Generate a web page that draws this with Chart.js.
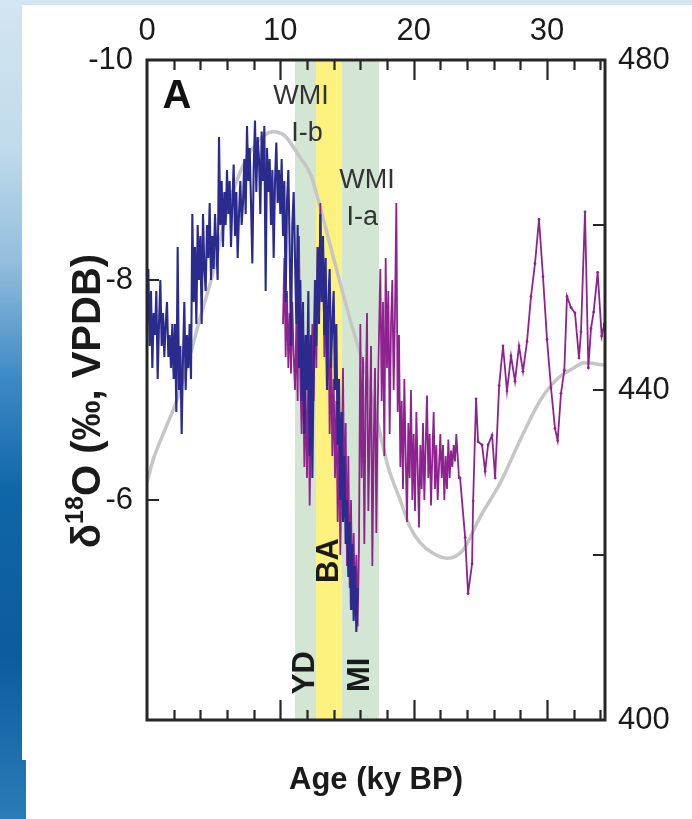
<!DOCTYPE html>
<html><head><meta charset="utf-8">
<script src="https://cdn.jsdelivr.net/npm/chart.js@4.4.1/dist/chart.umd.min.js"></script>
<style>
html,body{margin:0;padding:0;}
body{width:692px;height:819px;position:relative;overflow:hidden;
background:linear-gradient(to bottom,#d3e5f0 0%,#c0dbeb 18%,#93bedd 32%,#3e8ac6 46%,#0f66a8 60%,#0c5c9c 80%,#2a7bb8 100%);}
#p1{position:absolute;left:22px;top:5px;width:670px;height:755px;background:#fff;}
#p2{position:absolute;left:26px;top:760px;width:666px;height:59px;background:#fff;}
canvas{position:absolute;left:0;top:0;}
</style></head><body>
<div id="p1"></div><div id="p2"></div>
<canvas id="c" width="692" height="819"></canvas>
<script>
// ---------- data ----------
const ageTickLabels = [0, 10, 20, 30];
const d18OTickLabels = [-10, -8, -6];
const insolTickLabels = [400, 440, 480];

const periodNames = ['YD', 'BA', 'MI'];
const periodStart = [11.1, 12.68, 14.63];
const periodEnd = [12.68, 14.63, 17.4];

// insolation curve (right axis)
const insolAge = [0,0.45,1.35,2.25,3.23,3.98,4.95,6.0,6.98,8.1,9.45,10.35,10.95,11.48,12.3,12.98,13.73,14.48,15.45,16.5,17.33,18.08,18.98,19.73,20.48,21.45,22.5,23.7,24.98,26.48,27.98,29.48,30.75,32.03,32.78,34.35];
const insolValue = [428.8,431.5,435.2,438.8,444.2,448.7,454.2,461.8,466.4,469.7,471.3,470.8,469.5,468.2,466.0,462.2,457.6,453.0,447.3,441.6,435.8,430.7,426.7,423.4,421.5,420.2,419.6,420.6,424.6,428.7,433.9,438.7,441.3,442.7,443.3,443.0];

// blue d18O record, ages from 0 ky every 0.1 ky
const blueStartAge = 0, blueAgeStep = 0.1;
const blueD18O = [
 -7.6,-8.1,-7.4,-7.9,-7.2,-7.7,-7.5,-7.9,-7.1,-7.6,
 -8.0,-7.4,-7.7,-7.3,-7.6,-7.8,-7.3,-7.5,-7.2,-7.6,
 -7.1,-7.6,-6.8,-8.3,-7.0,-7.4,-6.6,-7.3,-7.8,-7.0,
 -7.5,-7.2,-7.6,-7.1,-8.6,-7.8,-8.3,-7.6,-8.5,-8.0,
 -8.4,-7.6,-8.6,-8.1,-7.9,-8.5,-8.2,-8.7,-8.0,-8.4,
 -8.1,-8.6,-8.3,-8.0,-9.3,-8.5,-8.9,-8.3,-8.8,-8.5,
 -9.0,-8.6,-8.9,-8.3,-8.7,-9.05,-8.4,-8.8,-8.2,-8.6,
 -8.9,-8.5,-8.7,-9.1,-8.6,-9.4,-8.9,-9.2,-8.7,-8.15,
 -9.0,-9.45,-8.8,-9.3,-9.1,-8.6,-9.35,-8.9,-9.4,-7.9,
 -9.2,-8.8,-9.1,-8.5,-9.0,-8.2,-8.9,-9.25,-8.7,-9.0,
 -8.6,-9.1,-8.4,-8.9,-7.8,-8.7,-9.0,-8.3,-7.4,-8.5,
 -8.8,-8.2,-7.6,-8.5,-7.2,-8.0,-6.9,-7.8,-6.6,-7.5,
 -7.0,-7.9,-6.4,-7.5,-6.2,-7.2,-8.0,-7.4,-8.3,-7.6,
 -8.6,-7.8,-8.4,-7.5,-8.2,-7.0,-7.8,-8.1,-7.2,-7.6,
 -7.9,-7.0,-7.6,-6.5,-7.1,-6.0,-6.8,-5.8,-6.4,-5.6,
 -6.0,-5.3,-5.8,-5.0,-5.6,-4.9,-5.4,-4.8,-5.2
];

// purple d18O record: dense part from 10.2 ky every 0.1 ky
const purpleStartAge = 10.2, purpleAgeStep = 0.1;
const purpleDenseD18O = [
 -7.6,-8.2,-7.3,-7.9,-7.2,-7.7,-7.15,-7.8,-7.3,
 -7.0,-7.6,-6.9,-8.4,-7.1,-6.6,-7.4,-6.3,-7.0,
 -6.2,-7.2,-5.95,-6.8,-7.6,-6.9,
 -7.9,-7.2,-8.3,-7.6,-8.7,-7.8,-8.4,-7.3,-8.0,-7.0,-7.7,-6.6,-7.4,-6.4,
 -7.1,-6.2,-6.9,-5.8,-6.6,-5.5,-6.3,-7.2,-5.9,-6.7,-5.4,
 -6.4,-5.2,-6.0,-5.0,-5.7,-4.95,-5.5,-4.85,-5.6,
 -7.6,-6.2,-7.3,-5.6,-6.9,-7.7,-5.9,-6.6,-7.4,-5.4,-6.5,-7.2,-5.7,-6.8,
 -7.5,-8.1,-6.9,-7.8,-6.4,-8.2,-7.2,-7.9,-6.6,-7.6,-8.0,-7.0,-7.7,-8.7,-6.8,-7.5,-6.3,
 -6.9,-6.1,-7.1,-6.4,-5.8,-6.7,-6.2,-7.0,-6.0,-6.6,-5.9,-6.8,-6.3,-5.75,-6.5,
 -6.1,-6.7,-6.0,-6.5,-6.95,-6.2,-6.6,-5.95,-6.4,-6.8,-6.1,-6.5,-6.0,-6.3,-6.6,
 -6.2,-6.5,-6.0,-6.4,-6.1,-6.55,-6.2,-6.45,-6.3,-6.5,-6.35,-6.6,-6.4,-6.2
];
// purple sparse part (older than 23.4 ky)
const purpleSparseAge = [23.48,23.86,24.08,24.38,24.46,24.68,24.83,25.13,25.36,25.58,25.88,26.11,26.41,26.7,27.0,27.3,27.6,27.9,28.2,28.5,28.8,29.1,29.4,29.7,30.0,30.3,30.6,30.8,31.05,31.3,31.5,31.8,32.1,32.4,32.55,32.85,33.1,33.3,33.5,33.8,34.1,34.3];
const purpleSparseD18O = [-6.20,-5.66,-5.15,-5.42,-5.99,-6.92,-6.53,-6.50,-6.26,-6.50,-6.59,-6.20,-7.04,-7.40,-6.99,-7.31,-7.08,-7.40,-7.17,-7.44,-7.85,-8.15,-8.55,-8.03,-7.46,-7.02,-6.65,-6.54,-6.97,-7.18,-7.85,-7.75,-7.70,-7.29,-7.53,-8.62,-7.20,-7.56,-7.71,-8.07,-7.49,-7.60];

// ---------- build ----------
const FONT = "'Liberation Sans', Arial, Helvetica, sans-serif";
const X_MIN = 0, X_MAX = 34.35;

const bluePts = blueD18O.map((v, i) => ({x: blueStartAge + i * blueAgeStep, y: v}));
const purplePts = purpleDenseD18O.map((v, i) => ({x: purpleStartAge + i * purpleAgeStep, y: v}))
  .concat(purpleSparseAge.map((a, i) => ({x: a, y: purpleSparseD18O[i]})));
const insolPts = insolAge.map((a, i) => ({x: a, y: insolValue[i]}));

const bandColors = ['#d3e6d3', '#fdf27e', '#d3e6d3'];

const annotations = {
  letter: {text: 'A', x: 2.25, y: -9.66},
  wmi: [
    {text: 'WMI', x: 11.55, y: -9.67}, {text: 'I-b', x: 12.0, y: -9.33},
    {text: 'WMI', x: 16.5, y: -8.9}, {text: 'I-a', x: 16.15, y: -8.57}
  ],
  periodY: [-4.43, -5.45, -4.41]
};

const overlay = {
  id: 'overlay',
  beforeDatasetsDraw(chart) {
    const {ctx, chartArea: a, scales: {x}} = chart;
    ctx.save();
    periodStart.forEach((s, i) => {
      const x0 = x.getPixelForValue(s), x1 = x.getPixelForValue(periodEnd[i]);
      ctx.fillStyle = bandColors[i];
      ctx.fillRect(x0, a.top, x1 - x0, a.bottom - a.top);
    });
    ctx.restore();
  },
  afterDatasetsDraw(chart) {
    const {ctx, chartArea: a, scales: {x, y, y2}} = chart;
    ctx.save();
    // period labels
    ctx.fillStyle = '#1a1a1a';
    ctx.font = 'bold 31px ' + FONT;
    ctx.textAlign = 'center'; ctx.textBaseline = 'middle';
    periodNames.forEach((n, i) => {
      const cx = x.getPixelForValue((periodStart[i] + periodEnd[i]) / 2);
      const cy = y.getPixelForValue(annotations.periodY[i]);
      ctx.save(); ctx.translate(cx, cy); ctx.rotate(-Math.PI / 2);
      ctx.fillText(n, 0, 0); ctx.restore();
    });
    // WMI labels
    ctx.fillStyle = '#333';
    ctx.font = '27px ' + FONT;
    annotations.wmi.forEach(t => ctx.fillText(t.text, x.getPixelForValue(t.x), y.getPixelForValue(t.y)));
    // panel letter
    ctx.fillStyle = '#111';
    ctx.font = 'bold 40px ' + FONT;
    ctx.fillText(annotations.letter.text, x.getPixelForValue(annotations.letter.x), y.getPixelForValue(annotations.letter.y));

    // frame
    ctx.strokeStyle = '#262626';
    ctx.lineWidth = 3;
    ctx.strokeRect(a.left, a.top, a.right - a.left, a.bottom - a.top);
    // inward ticks
    ctx.lineWidth = 2.2;
    ctx.beginPath();
    for (let v = 2; v < X_MAX; v += 2) {
      const px = Math.round(x.getPixelForValue(v)) + 0.5;
      const len = (v % 10 === 0) ? 20 : 10;
      ctx.moveTo(px, a.top); ctx.lineTo(px, a.top + len);
      ctx.moveTo(px, a.bottom); ctx.lineTo(px, a.bottom - len);
    }
    [-8, -6].forEach(v => { const py = y.getPixelForValue(v); ctx.moveTo(a.left, py); ctx.lineTo(a.left + 12, py); });
    [420, 440, 460].forEach(v => { const py = y2.getPixelForValue(v); ctx.moveTo(a.right, py); ctx.lineTo(a.right - 12, py); });
    ctx.stroke();

    // y-axis title with superscript
    ctx.fillStyle = '#1a1a1a';
    ctx.save();
    ctx.translate(89, 401);
    ctx.rotate(-Math.PI / 2);
    const big = 'bold 40px ' + FONT, small = 'bold 25px ' + FONT;
    const parts = [['δ', big, 0], ['18', small, -13], ['O (‰, VPDB)', big, 0]];
    let total = 0;
    parts.forEach(p => { ctx.font = p[1]; total += ctx.measureText(p[0]).width; });
    let cx = -total / 2;
    ctx.textAlign = 'left'; ctx.textBaseline = 'middle';
    parts.forEach(p => { ctx.font = p[1]; ctx.fillText(p[0], cx, p[2]); cx += ctx.measureText(p[0]).width; });
    ctx.restore();
    ctx.restore();
  }
};

Chart.defaults.font.family = FONT;
Chart.defaults.color = '#1a1a1a';

new Chart(document.getElementById('c'), {
  type: 'line',
  data: {
    datasets: [
      {label: 'blue', data: bluePts, yAxisID: 'y', xAxisID: 'x', borderColor: '#2b2b8e', borderWidth: 2.1,
       pointRadius: 0, tension: 0, order: 0},
      {label: 'purple', data: purplePts, yAxisID: 'y', xAxisID: 'x', borderColor: '#8e238f', borderWidth: 1.8,
       pointRadius: c => c.dataIndex >= purpleDenseD18O.length ? 1.4 : 0,
       pointBackgroundColor: '#8e238f', pointBorderWidth: 0, tension: 0, order: 1},
      {label: 'insolation', data: insolPts, yAxisID: 'y2', xAxisID: 'x', borderColor: '#c6c6c6', borderWidth: 3.5,
       pointRadius: 0, cubicInterpolationMode: 'monotone', order: 2}
    ]
  },
  options: {
    responsive: false, animation: false, devicePixelRatio: 1,
    layout: {padding: 0},
    plugins: {legend: {display: false}, tooltip: {enabled: false}},
    scales: {
      x: {type: 'linear', position: 'bottom', min: X_MIN, max: X_MAX,
          ticks: {display: false}, grid: {display: false, drawTicks: false}, border: {display: false},
          title: {display: true, text: 'Age (ky BP)', font: {size: 31, weight: 'bold'}, color: '#1a1a1a', padding: {top: 0, bottom: 20}},
          afterFit(s) { s.height = 99; }},
      xTop: {type: 'linear', position: 'top', min: X_MIN, max: X_MAX,
          afterBuildTicks(s) { s.ticks = ageTickLabels.map(v => ({value: v})); },
          ticks: {font: {size: 31}, color: '#1a1a1a', padding: 10, maxRotation: 0, autoSkip: false},
          grid: {display: false, drawTicks: false}, border: {display: false},
          afterFit(s) { s.height = 60; }},
      y: {type: 'linear', position: 'left', reverse: true, min: -10, max: -4,
          afterBuildTicks(s) { s.ticks = d18OTickLabels.map(v => ({value: v})); },
          ticks: {font: {size: 31}, color: '#1a1a1a', padding: 14},
          grid: {display: false, drawTicks: false}, border: {display: false},
          afterFit(s) { s.width = 147; }},
      y2: {type: 'linear', position: 'right', min: 400, max: 480,
          afterBuildTicks(s) { s.ticks = insolTickLabels.map(v => ({value: v})); },
          ticks: {font: {size: 31}, color: '#1a1a1a', padding: 13},
          grid: {display: false, drawTicks: false}, border: {display: false},
          afterFit(s) { s.width = 87; }}
    }
  },
  plugins: [overlay]
});
</script></body></html>
